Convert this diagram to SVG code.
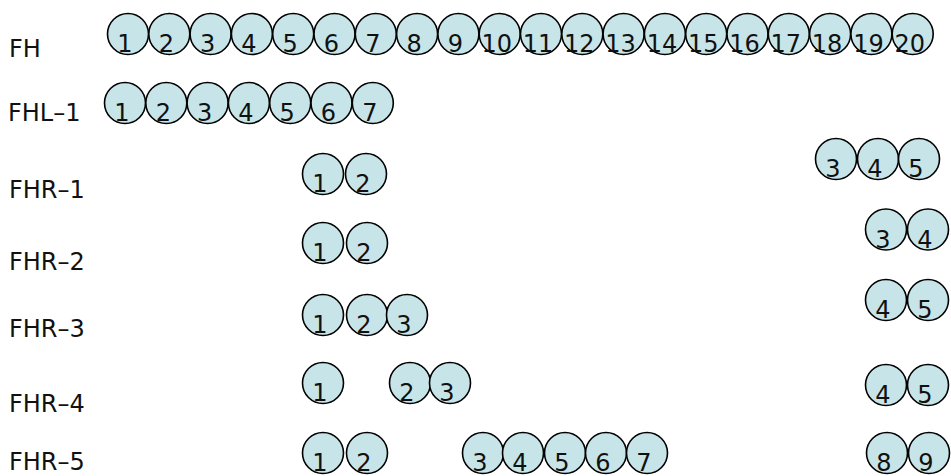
<svg xmlns="http://www.w3.org/2000/svg" width="951" height="476" viewBox="0 0 951 476">
<style>
  .c { fill: #c7e5e8; stroke: #000; stroke-width: 1.6; }
  .n { font-family: "DejaVu Sans", Verdana, sans-serif; font-size: 24px; fill: #111; text-anchor: middle; }
  .lbl { font-family: "DejaVu Sans", Verdana, sans-serif; font-size: 24px; fill: #111; }
</style>
<rect width="951" height="476" fill="#fff"/>
<g id="labels">
  <text class="lbl" x="9" y="57">FH</text>
  <text class="lbl" x="8" y="121">FHL–1</text>
  <text class="lbl" x="9" y="198">FHR–1</text>
  <text class="lbl" x="9" y="270">FHR–2</text>
  <text class="lbl" x="9" y="337">FHR–3</text>
  <text class="lbl" x="9" y="412">FHR–4</text>
  <text class="lbl" x="9" y="470">FHR–5</text>
</g>
<g id="connectors"/>
<g id="FH">
  <g id="FH-1"><circle class="c" cx="128" cy="34" r="20.5"/><text class="n" x="125" y="52">1</text></g>
  <g id="FH-2"><circle class="c" cx="169.3" cy="34" r="20.5"/><text class="n" x="166.3" y="52">2</text></g>
  <g id="FH-3"><circle class="c" cx="210.6" cy="34" r="20.5"/><text class="n" x="207.6" y="52">3</text></g>
  <g id="FH-4"><circle class="c" cx="251.9" cy="34" r="20.5"/><text class="n" x="248.9" y="52">4</text></g>
  <g id="FH-5"><circle class="c" cx="293.2" cy="34" r="20.5"/><text class="n" x="290.2" y="52">5</text></g>
  <g id="FH-6"><circle class="c" cx="334.5" cy="34" r="20.5"/><text class="n" x="331.5" y="52">6</text></g>
  <g id="FH-7"><circle class="c" cx="375.8" cy="34" r="20.5"/><text class="n" x="372.8" y="52">7</text></g>
  <g id="FH-8"><circle class="c" cx="417.1" cy="34" r="20.5"/><text class="n" x="414.1" y="52">8</text></g>
  <g id="FH-9"><circle class="c" cx="458.4" cy="34" r="20.5"/><text class="n" x="455.4" y="52">9</text></g>
  <g id="FH-10"><circle class="c" cx="499.7" cy="34" r="20.5"/><text class="n" x="496.7" y="52">10</text></g>
  <g id="FH-11"><circle class="c" cx="541" cy="34" r="20.5"/><text class="n" x="538" y="52">11</text></g>
  <g id="FH-12"><circle class="c" cx="582.3" cy="34" r="20.5"/><text class="n" x="579.3" y="52">12</text></g>
  <g id="FH-13"><circle class="c" cx="623.6" cy="34" r="20.5"/><text class="n" x="620.6" y="52">13</text></g>
  <g id="FH-14"><circle class="c" cx="664.9" cy="34" r="20.5"/><text class="n" x="661.9" y="52">14</text></g>
  <g id="FH-15"><circle class="c" cx="706.2" cy="34" r="20.5"/><text class="n" x="703.2" y="52">15</text></g>
  <g id="FH-16"><circle class="c" cx="747.5" cy="34" r="20.5"/><text class="n" x="744.5" y="52">16</text></g>
  <g id="FH-17"><circle class="c" cx="788.8" cy="34" r="20.5"/><text class="n" x="785.8" y="52">17</text></g>
  <g id="FH-18"><circle class="c" cx="830.1" cy="34" r="20.5"/><text class="n" x="827.1" y="52">18</text></g>
  <g id="FH-19"><circle class="c" cx="871.4" cy="34" r="20.5"/><text class="n" x="868.4" y="52">19</text></g>
  <g id="FH-20"><circle class="c" cx="912.7" cy="34" r="20.5"/><text class="n" x="909.7" y="52">20</text></g>
</g>
<g id="FHL1">
  <g id="FHL1-1"><circle class="c" cx="125" cy="103" r="20.5"/><text class="n" x="122" y="121">1</text></g>
  <g id="FHL1-2"><circle class="c" cx="166.3" cy="103" r="20.5"/><text class="n" x="163.3" y="121">2</text></g>
  <g id="FHL1-3"><circle class="c" cx="207.6" cy="103" r="20.5"/><text class="n" x="204.6" y="121">3</text></g>
  <g id="FHL1-4"><circle class="c" cx="248.9" cy="103" r="20.5"/><text class="n" x="245.9" y="121">4</text></g>
  <g id="FHL1-5"><circle class="c" cx="290.2" cy="103" r="20.5"/><text class="n" x="287.2" y="121">5</text></g>
  <g id="FHL1-6"><circle class="c" cx="331.5" cy="103" r="20.5"/><text class="n" x="328.5" y="121">6</text></g>
  <g id="FHL1-7"><circle class="c" cx="372.8" cy="103" r="20.5"/><text class="n" x="369.8" y="121">7</text></g>
</g>
<g id="FHR1">
  <g id="FHR1-1"><circle class="c" cx="323" cy="174" r="20.5"/><text class="n" x="320" y="192">1</text></g>
  <g id="FHR1-2"><circle class="c" cx="366" cy="174" r="20.5"/><text class="n" x="363" y="192">2</text></g>
  <g id="FHR1-3"><circle class="c" cx="836" cy="159" r="20.5"/><text class="n" x="833" y="177">3</text></g>
  <g id="FHR1-4"><circle class="c" cx="878" cy="159" r="20.5"/><text class="n" x="875" y="177">4</text></g>
  <g id="FHR1-5"><circle class="c" cx="919" cy="159" r="20.5"/><text class="n" x="916" y="177">5</text></g>
</g>
<g id="FHR2">
  <g id="FHR2-1"><circle class="c" cx="323" cy="243" r="20.5"/><text class="n" x="320" y="261">1</text></g>
  <g id="FHR2-2"><circle class="c" cx="367" cy="243" r="20.5"/><text class="n" x="364" y="261">2</text></g>
  <g id="FHR2-3"><circle class="c" cx="886" cy="229.5" r="20.5"/><text class="n" x="883" y="247.5">3</text></g>
  <g id="FHR2-4"><circle class="c" cx="928" cy="229.5" r="20.5"/><text class="n" x="925" y="247.5">4</text></g>
</g>
<g id="FHR3">
  <g id="FHR3-1"><circle class="c" cx="323" cy="315" r="20.5"/><text class="n" x="320" y="333">1</text></g>
  <g id="FHR3-2"><circle class="c" cx="367" cy="315" r="20.5"/><text class="n" x="364" y="333">2</text></g>
  <g id="FHR3-3"><circle class="c" cx="407" cy="315" r="20.5"/><text class="n" x="404" y="333">3</text></g>
  <g id="FHR3-4"><circle class="c" cx="886" cy="300" r="20.5"/><text class="n" x="883" y="318">4</text></g>
  <g id="FHR3-5"><circle class="c" cx="928" cy="300" r="20.5"/><text class="n" x="925" y="318">5</text></g>
</g>
<g id="FHR4">
  <g id="FHR4-1"><circle class="c" cx="323" cy="383" r="20.5"/><text class="n" x="320" y="401">1</text></g>
  <g id="FHR4-2"><circle class="c" cx="410" cy="383" r="20.5"/><text class="n" x="407" y="401">2</text></g>
  <g id="FHR4-3"><circle class="c" cx="450" cy="383" r="20.5"/><text class="n" x="447" y="401">3</text></g>
  <g id="FHR4-4"><circle class="c" cx="886" cy="385" r="20.5"/><text class="n" x="883" y="403">4</text></g>
  <g id="FHR4-5"><circle class="c" cx="928" cy="385" r="20.5"/><text class="n" x="925" y="403">5</text></g>
</g>
<g id="FHR5">
  <g id="FHR5-1"><circle class="c" cx="323" cy="453" r="20.5"/><text class="n" x="320" y="471">1</text></g>
  <g id="FHR5-2"><circle class="c" cx="367" cy="453" r="20.5"/><text class="n" x="364" y="471">2</text></g>
  <g id="FHR5-3"><circle class="c" cx="483" cy="453" r="20.5"/><text class="n" x="480" y="471">3</text></g>
  <g id="FHR5-4"><circle class="c" cx="523" cy="453" r="20.5"/><text class="n" x="520" y="471">4</text></g>
  <g id="FHR5-5"><circle class="c" cx="565" cy="453" r="20.5"/><text class="n" x="562" y="471">5</text></g>
  <g id="FHR5-6"><circle class="c" cx="606" cy="453" r="20.5"/><text class="n" x="603" y="471">6</text></g>
  <g id="FHR5-7"><circle class="c" cx="647" cy="453" r="20.5"/><text class="n" x="644" y="471">7</text></g>
  <g id="FHR5-8"><circle class="c" cx="887" cy="453" r="20.5"/><text class="n" x="884" y="471">8</text></g>
  <g id="FHR5-9"><circle class="c" cx="929" cy="453" r="20.5"/><text class="n" x="926" y="471">9</text></g>
</g>
</svg>
